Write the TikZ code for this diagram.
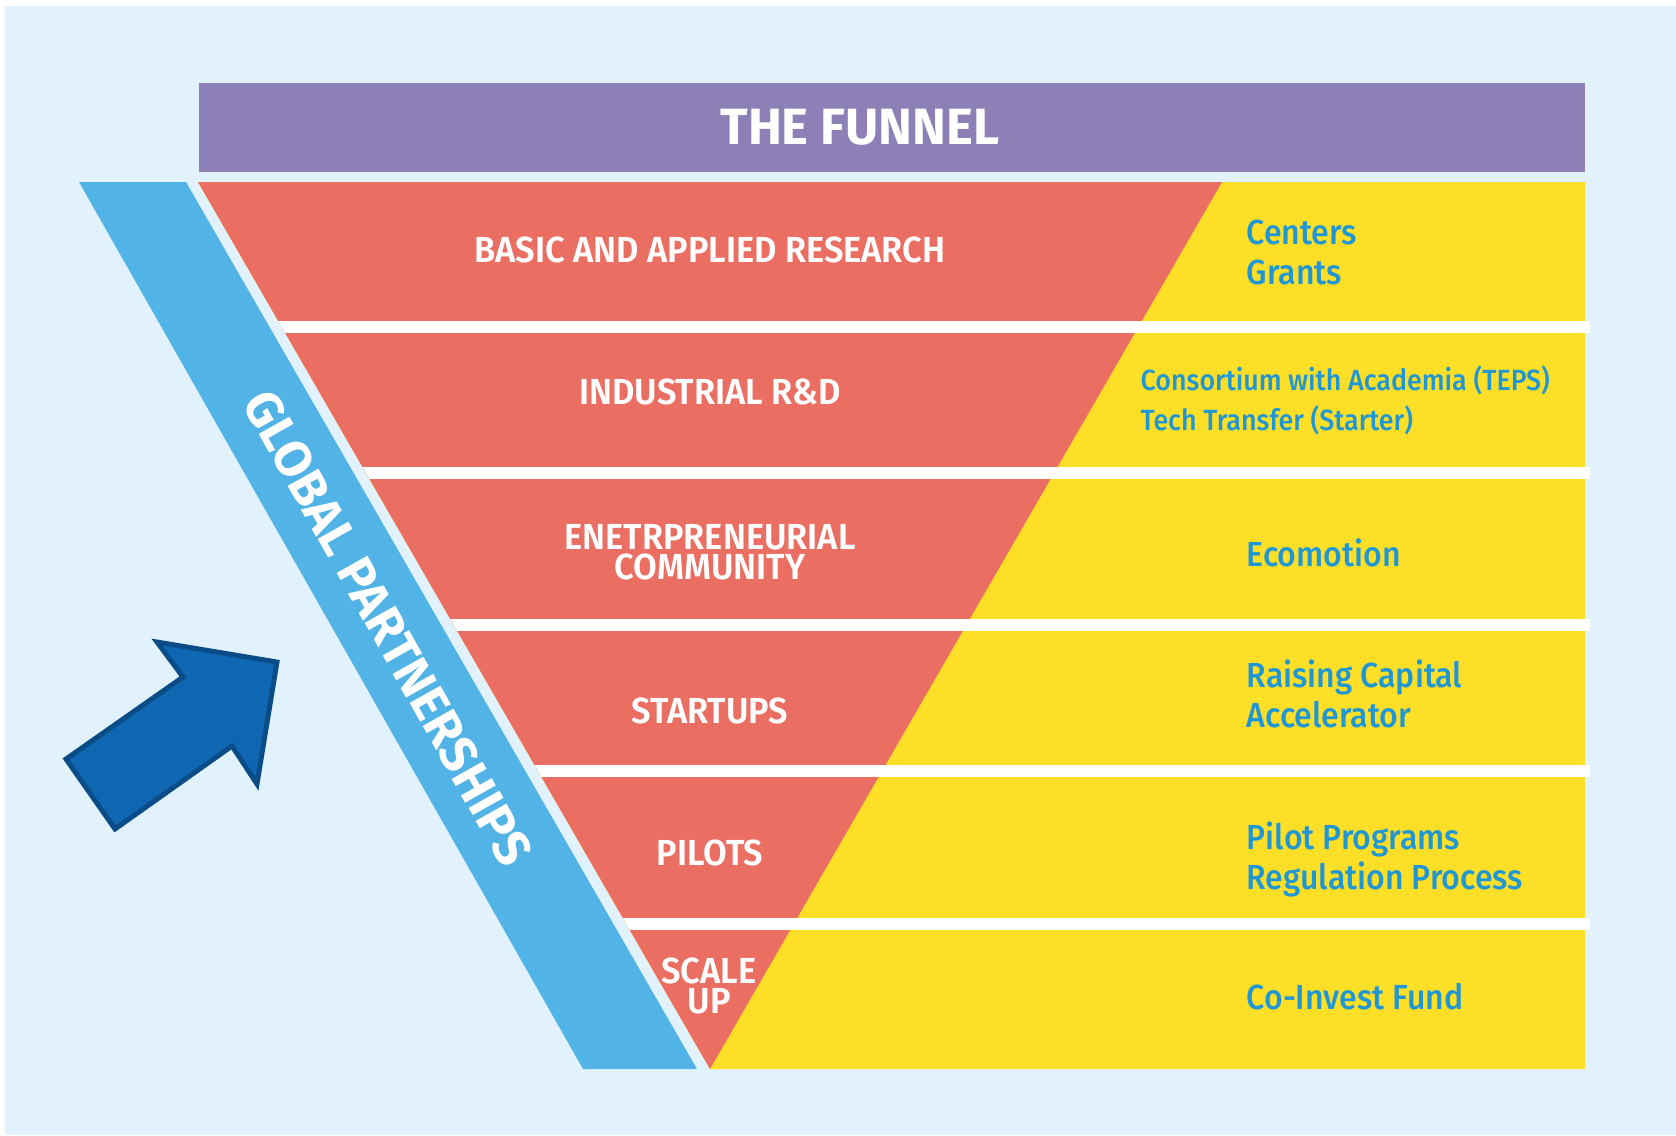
\documentclass[tikz,border=0pt]{standalone}
\usepackage{fontspec}
\setmainfont{Fira Sans}
\newfontfamily\narrowfont[FakeStretch=0.95]{Fira Sans SemiBold}
\newfontfamily\toolfont[FakeStretch=0.92]{Fira Sans Medium}
\usetikzlibrary{positioning}

\definecolor{skyback}{HTML}{E1F2FD}
\definecolor{headpurple}{HTML}{8C80B6}
\definecolor{funnelred}{HTML}{EB6E62}
\definecolor{funnelyellow}{HTML}{FEDF28}
\definecolor{stripeblue}{HTML}{52B3E6}
\definecolor{labelblue}{HTML}{1F97D4}
\definecolor{arrowblue}{HTML}{0F67B1}
\definecolor{arrowedge}{HTML}{0A4C87}

\begin{document}
\begin{tikzpicture}
            [x=0.01cm, y=-0.01cm,
            stage/.style={font=\narrowfont\fontsize{10.3}{8.6}\selectfont, text=white, align=center, inner sep=0pt},
            tool/.style={font=\toolfont\fontsize{9.9}{11.4}\selectfont, text=labelblue, align=left, anchor=west, inner sep=0pt}
            ]
            \useasboundingbox (0,0) rectangle (1676,1135);
            \fill[white] (0,0) rectangle (1676,1135);
            \fill[skyback] (5,6) rectangle (1676,1135);
            % header bar
            \fill[headpurple] (199,83) rectangle (1585,172);
            \node[font=\bfseries\fontsize{14.5}{17}\selectfont, text=white, inner sep=0pt] (title) at (860,127) {THE FUNNEL};
            % funnel body
            \fill[funnelyellow] (198,182) -- (1585,182) -- (1585,1069) -- (710,1069) -- cycle;
            \fill[funnelred] (198,182) -- (1222,182) -- (710,1069) -- cycle;
            \begin{scope}
              \clip (198,182) -- (1590,182) -- (1590,1069) -- (710,1069) -- cycle;
              \fill[white] (0,321) rectangle (1590,333);
              \fill[white] (0,467) rectangle (1590,479);
              \fill[white] (0,619) rectangle (1590,631);
              \fill[white] (0,765) rectangle (1590,777);
              \fill[white] (0,918) rectangle (1590,930);
            \end{scope}
            % side band
            \fill[stripeblue] (79,182) -- (186,182) -- (697,1069) -- (583,1069) -- cycle;
            \node[font=\bfseries\fontsize{14.5}{17}\selectfont, text=white, rotate=-60.7, inner sep=0pt] (global) at (388,628) {GLOBAL PARTNERSHIPS};
            % stages
            \node[stage] (basic) at (710,250) {BASIC AND APPLIED RESEARCH};
            \node[stage] (industrial) at (710,392) {INDUSTRIAL R\&D};
            \node[stage] (community) at (710,552) {ENETRPRENEURIAL\\COMMUNITY};
            \node[stage] (startups) at (710,711) {STARTUPS};
            \node[stage] (pilots) at (710,853) {PILOTS};
            \node[stage] (scaleup) at (709,986) {SCALE\\UP};
            % programmes
            \node[tool] (centers) at (1246,252) {Centers\\Grants};
            \node[tool, font=\toolfont\fontsize{8.3}{11.4}\selectfont] (consortium) at (1140,400) {Consortium with Academia (TEPS)\\Tech Transfer (Starter)};
            \node[tool] (ecomotion) at (1246,553) {Ecomotion};
            \node[tool] (capital) at (1246,694) {Raising Capital\\Accelerator};
            \node[tool] (programs) at (1246,859) {Pilot Programs\\Regulation Process};
            \node[tool] (coinvest) at (1246,997) {Co-Invest Fund};
            % arrow
            \draw[arrowedge, fill=arrowblue, line width=1.4pt, line join=miter]
              (157,642) -- (277,662) -- (257,784) -- (232,746) -- (115,829) -- (66,759) -- (183,677) -- cycle;
          \end{tikzpicture}
\end{document}
